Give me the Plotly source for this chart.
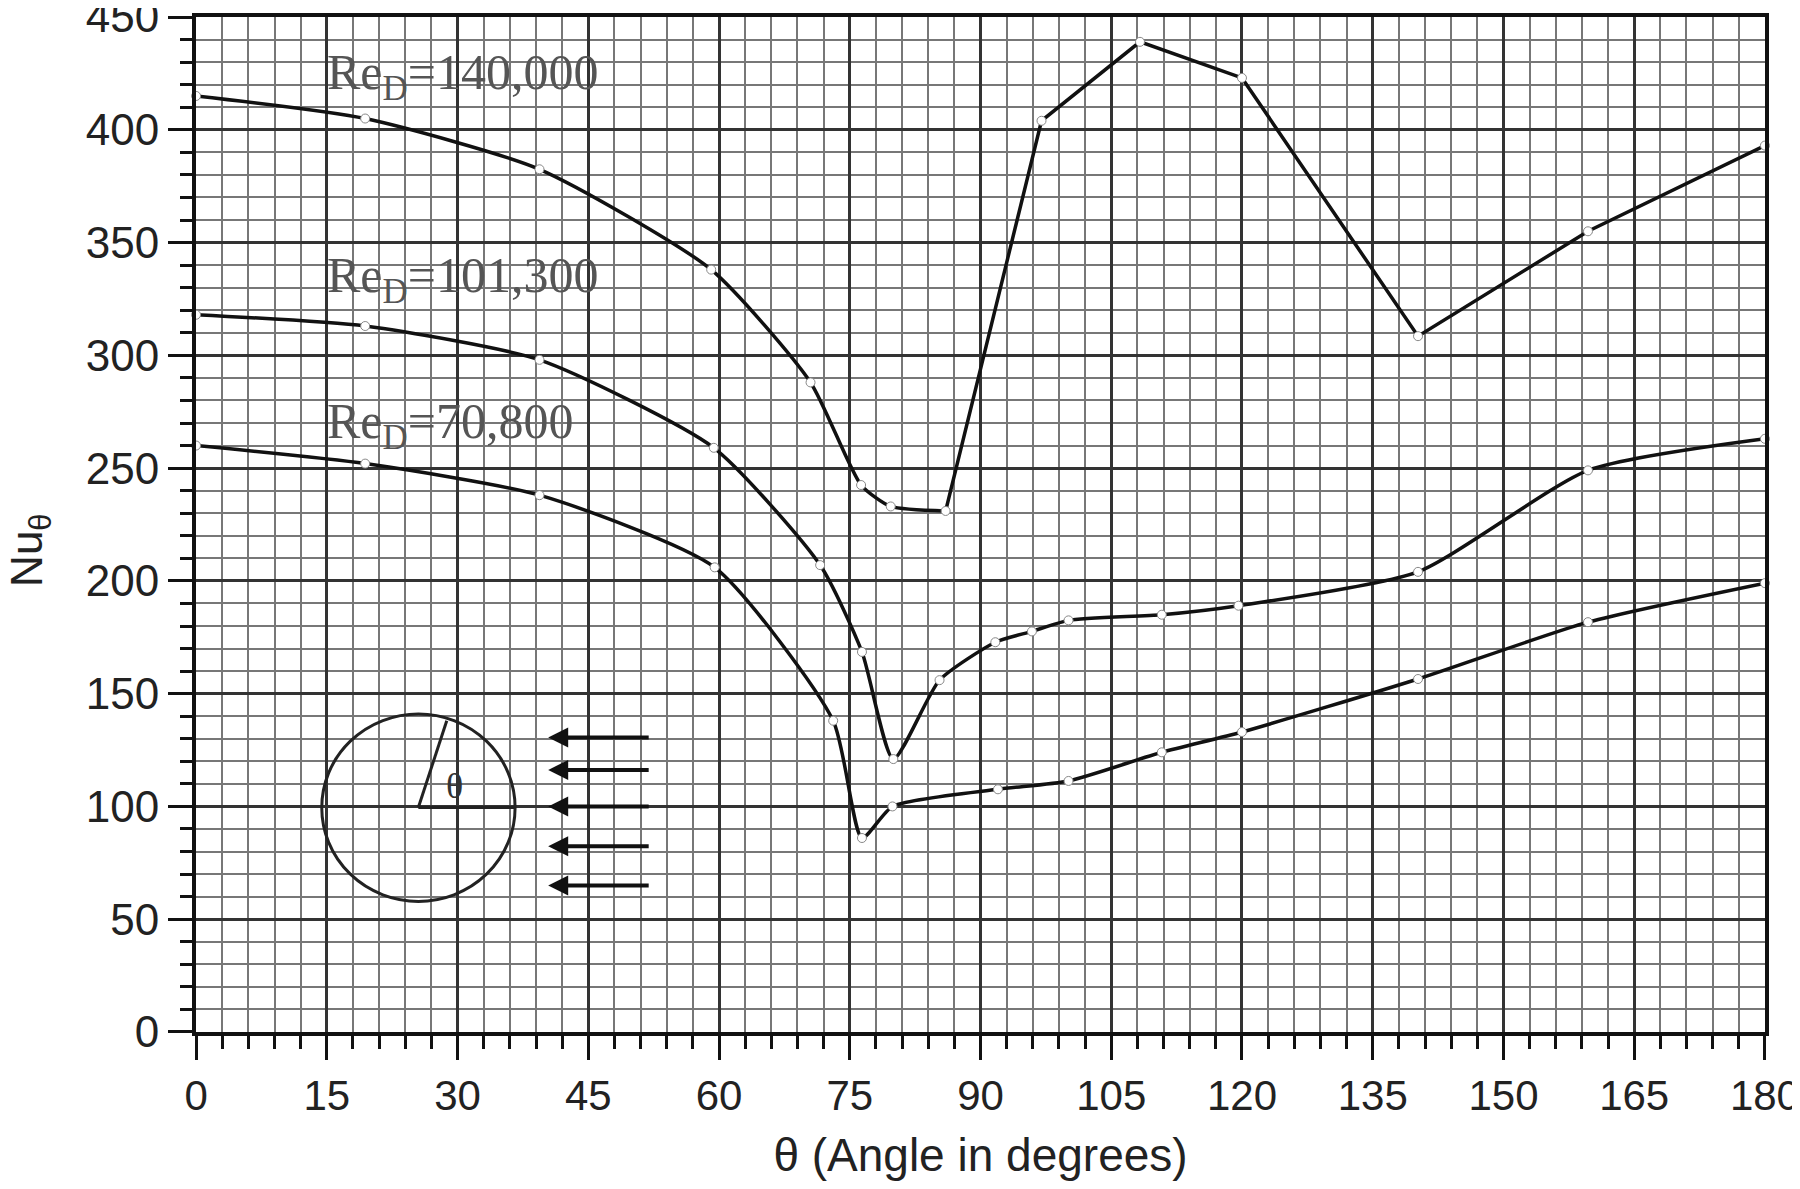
import plotly.graph_objects as go

# datos (angulo en grados, Nu_theta)
theta_140 = [0, 19.4, 39.4, 59.1, 70.5, 76.3, 79.7, 86.0, 97.0, 108.3, 120.0, 140.2, 159.7, 180]
nu_140 = [415, 405, 382.5, 338, 288, 242.5, 233, 231, 404, 439, 423, 308.5, 355, 393]

theta_101 = [0, 19.4, 39.4, 59.4, 71.6, 76.4, 80.0, 85.3, 91.7, 95.9, 100.1, 110.8, 119.6, 140.2, 159.7, 180]
nu_101 = [318, 313, 298, 259, 207, 168.5, 121, 156, 172.8, 177.6, 182.5, 185, 189, 204, 249, 263]

theta_70 = [0, 19.4, 39.4, 59.5, 73.1, 76.4, 79.9, 92.0, 100.1, 110.8, 120.0, 140.2, 159.7, 180]
nu_70 = [260, 252, 238, 206, 138, 86, 100, 107.6, 111.3, 124, 133, 156.5, 181.7, 199]

etiquetas = ["Re<sub>D</sub>=140,000", "Re<sub>D</sub>=101,300", "Re<sub>D</sub>=70,800"]
x_ticks = list(range(0, 181, 15))
y_ticks = list(range(0, 451, 50))

linea = dict(color="#111111", width=3.5)
marcador = dict(symbol="circle", size=9, color="white", line=dict(color="#888888", width=1))

fig = go.Figure()
# la curva de 140,000 es suave hasta 86 grados y despues va en tramos rectos
fig.add_trace(go.Scatter(x=theta_140[:8], y=nu_140[:8], mode="lines",
                         line=dict(**linea, shape="spline", smoothing=0.6), showlegend=False))
fig.add_trace(go.Scatter(x=theta_140[7:], y=nu_140[7:], mode="lines",
                         line=dict(**linea, shape="linear"), showlegend=False, cliponaxis=False))
for xs, ys in [(theta_101, nu_101), (theta_70, nu_70)]:
    fig.add_trace(go.Scatter(x=xs, y=ys, mode="lines",
                             line=dict(**linea, shape="spline", smoothing=0.6),
                             showlegend=False, cliponaxis=False))
for xs, ys in [(theta_140, nu_140), (theta_101, nu_101), (theta_70, nu_70)]:
    fig.add_trace(go.Scatter(x=xs, y=ys, mode="markers", marker=marcador,
                             showlegend=False, cliponaxis=False))

# etiquetas de cada curva
for texto, yy in zip(etiquetas, [424, 334, 269]):
    fig.add_annotation(x=14.8, y=yy, text=texto, showarrow=False, xanchor="left", yanchor="middle",
                       font=dict(family="Liberation Serif", size=50, color="#555555"))

# dibujo del cilindro con el angulo
fig.add_shape(type="circle", xref="x", yref="y", x0=14.42, x1=36.6, y0=57.9, y1=141,
              line=dict(color="#222222", width=3))
fig.add_shape(type="line", xref="x", yref="y", x0=25.5, y0=99.5, x1=36.5, y1=99.5,
              line=dict(color="#222222", width=3))
fig.add_shape(type="line", xref="x", yref="y", x0=25.5, y0=99.5, x1=28.76, y1=138,
              line=dict(color="#222222", width=3))
fig.add_annotation(x=29.6, y=109, text="θ", showarrow=False,
                   font=dict(family="Liberation Serif", size=36, color="#333333"))

# flechas del flujo
for yy in [130.6, 116.2, 100, 82.4, 64.9]:
    fig.add_annotation(x=40.4, y=yy, ax=52.1, ay=yy, axref="x", ayref="y", xref="x", yref="y",
                       text="", showarrow=True, arrowhead=2, arrowsize=1, arrowwidth=4,
                       arrowcolor="#111111")

# titulo del eje y como anotacion para poder ponerlo bien a la izquierda
fig.add_annotation(xref="paper", yref="paper", x=0, y=0.474, xshift=-166, text="Nu<sub>θ</sub>",
                   textangle=-90, showarrow=False, xanchor="center", yanchor="middle",
                   font=dict(family="Liberation Sans", size=44, color="#222222"))

fig.update_xaxes(
    range=[-0.01, 180.01], tickvals=x_ticks, ticks="outside", ticklen=24, tickwidth=3, tickcolor="#111111",
    showline=True, linewidth=4, linecolor="#111111", mirror=True,
    showgrid=True, gridcolor="#333333", gridwidth=2.5,
    minor=dict(dtick=3, ticks="outside", ticklen=13, tickwidth=3, tickcolor="#111111",
               showgrid=True, gridcolor="#777777", gridwidth=1.8),
    tickfont=dict(family="Liberation Sans", size=42, color="#222222"), ticklabeloverflow="allow",
    title=dict(text="θ (Angle in degrees)", standoff=24,
               font=dict(family="Liberation Sans", size=46, color="#222222")),
    zeroline=False, automargin=False,
)
fig.update_yaxes(
    range=[-0.01, 450.01], tickvals=y_ticks, ticks="outside", ticklen=24, tickwidth=3, tickcolor="#111111",
    showline=True, linewidth=4, linecolor="#111111", mirror=True,
    showgrid=True, gridcolor="#333333", gridwidth=2.5,
    minor=dict(dtick=10, ticks="outside", ticklen=12, tickwidth=3, tickcolor="#111111",
               showgrid=True, gridcolor="#777777", gridwidth=1.8),
    tickfont=dict(family="Liberation Sans", size=44, color="#222222"), ticklabeloverflow="allow",
    zeroline=False, automargin=False,
)
# el navegador deja 8 px de margen en la pagina, lo descuento (y evito la barra de scroll)
fig.update_layout(
    width=1792, height=1173,
    margin=dict(l=188, r=35, t=9, b=149),
    paper_bgcolor="white", plot_bgcolor="white",
)
fig.write_html("out.html")
